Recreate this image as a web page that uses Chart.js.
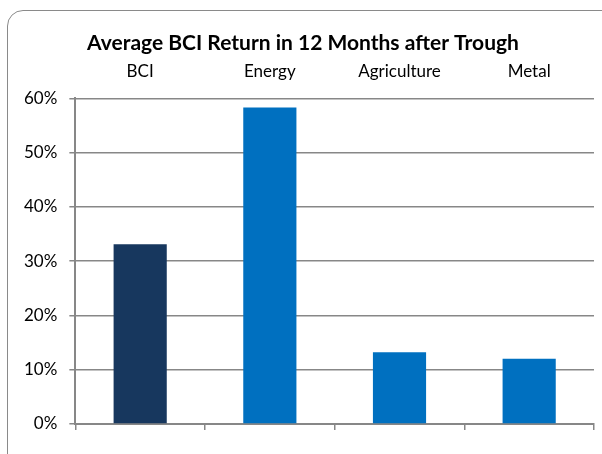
<!DOCTYPE html>
<html>
<head>
<meta charset="utf-8">
<script src="https://cdn.jsdelivr.net/npm/chart.js@4"></script>
<style>
  body { margin: 0; background: #fff; }
  #wrap { position: relative; width: 602px; height: 454px; }
  #frame {
    position: absolute; left: 7px; top: 10px; width: 610px; height: 460px;
    border: 1.5px solid #8a8a8a; border-radius: 16px; pointer-events: none;
  }
</style>
</head>
<body>
<div id="wrap">
  <canvas id="chart" width="602" height="454"></canvas>
  <div id="frame"></div>
</div>
<script>
// data
const categories = ['BCI', 'Energy', 'Agriculture', 'Metal'];
const returns = [33.1, 58.3, 13.2, 12.0];
const barColors = ['#17375E', '#0070C0', '#0070C0', '#0070C0'];
const yTicks = [0, 10, 20, 30, 40, 50, 60];

const gridGray = '#878787';
const font = 'Lato';

const config = {
    type: 'bar',
    data: {
        labels: categories,
        datasets: [{
            data: returns,
            backgroundColor: barColors,
            borderWidth: 0,
            barPercentage: 0.82,
            categoryPercentage: 0.5,
            xAxisID: 'x'
        }]
    },
    options: {
        responsive: false,
        animation: false,
        layout: { padding: { left: 12, right: 8, top: 34, bottom: 24 } },
        plugins: {
            legend: { display: false },
            tooltip: { enabled: false },
            title: {
                display: true,
                text: 'Average BCI Return in 12 Months after Trough',
                color: '#000',
                font: { family: font, size: 21, weight: 'bold', lineHeight: 0.85 },
                padding: { top: 0, bottom: 0 }
            }
        },
        scales: {
            // category names sit above the plot
            x: {
                position: 'top',
                grid: { display: false },
                border: { display: false },
                ticks: { color: '#000', font: { family: font, size: 17 }, padding: 9 }
            },
            // bottom axis only gives the line and the tick marks
            x2: {
                type: 'category',
                labels: categories,
                position: 'bottom',
                offset: true,
                grid: { offset: true, drawOnChartArea: false, drawTicks: true, tickLength: 6, color: gridGray, lineWidth: 1.5 },
                border: { display: true, color: gridGray, width: 2 },
                ticks: { display: false }
            },
            y: {
                min: 0,
                max: 60,
                afterBuildTicks: (scale) => { scale.ticks = yTicks.map(v => ({ value: v })); },
                grid: { color: gridGray, lineWidth: 1.5, tickLength: 6 },
                border: { display: true, color: gridGray, width: 2 },
                ticks: {
                    color: '#000',
                    font: { family: font, size: 17 },
                    padding: 12,
                    callback: (v) => v + '%'
                }
            }
        }
    }
};

const chart = new Chart(document.getElementById('chart'), config);
</script>
</body>
</html>
